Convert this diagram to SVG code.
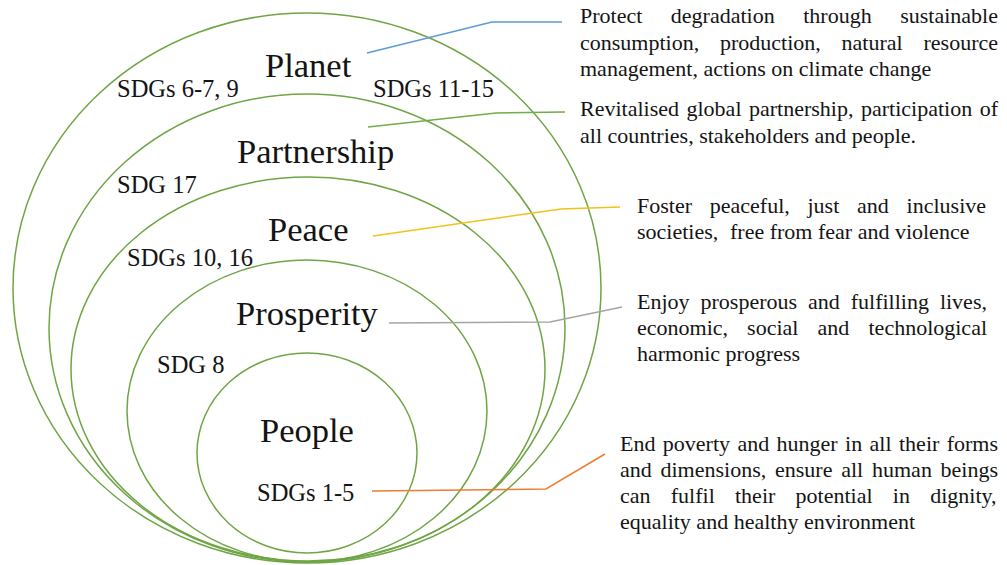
<svg xmlns="http://www.w3.org/2000/svg" width="1007" height="565" viewBox="0 0 1007 565">
<style>
.ring{fill:none;stroke:#6fa545;stroke-width:1.5}
.t{font-family:"Liberation Serif","Times New Roman",serif;fill:#141414}
.big{font-size:34.5px}
.sdg{font-size:24.5px}
.desc{font-size:22px}
.con{fill:none;stroke-width:1.5}
</style>
<rect width="1007" height="565" fill="#ffffff"/>
<g id="planet">
<ellipse class="ring" cx="307" cy="288" rx="294" ry="275"/>
<text class="t big" x="265" y="77">Planet</text>
<text class="t sdg" x="117" y="97">SDGs 6-7, 9</text>
<text class="t sdg" x="373" y="97">SDGs 11-15</text>
</g>
<g id="partnership">
<ellipse class="ring" cx="307" cy="328" rx="258" ry="234"/>
<text class="t big" x="237" y="163">Partnership</text>
<text class="t sdg" x="117" y="193">SDG 17</text>
</g>
<g id="peace">
<ellipse class="ring" cx="308" cy="369" rx="237" ry="192"/>
<text class="t big" x="268" y="241">Peace</text>
<text class="t sdg" x="127" y="266">SDGs 10, 16</text>
</g>
<g id="prosperity">
<ellipse class="ring" cx="307" cy="411" rx="180" ry="151"/>
<text class="t big" x="236" y="325">Prosperity</text>
<text class="t sdg" x="157" y="373">SDG 8</text>
</g>
<g id="people">
<ellipse class="ring" cx="307" cy="453" rx="110" ry="100"/>
<text class="t big" x="260" y="442">People</text>
<text class="t sdg" x="257" y="501">SDGs 1-5</text>
</g>
<g id="connectors">
<polyline class="con" stroke="#5b9bd5" points="367,53 492,22 562,22"/>
<polyline class="con" stroke="#70ad47" points="368,127 496,113 565,112"/>
<polyline class="con" stroke="#f2c21b" points="373,236 561,209 620,207"/>
<polyline class="con" stroke="#a5a5a5" points="389,323 550,322 622,307"/>
<polyline class="con" stroke="#ed7d31" points="372,491 546,489 605,454"/>
</g>
<g id="desc-planet" class="t desc">
<text y="23"><tspan x="580">Protect</tspan><tspan x="670.8">degradation</tspan><tspan x="803.2">through</tspan><tspan x="900.2">sustainable</tspan></text>
<text y="50"><tspan x="580">consumption,</tspan><tspan x="720">production,</tspan><tspan x="841.6">natural</tspan><tspan x="923.5">resource</tspan></text>
<text x="580" y="76">management, actions on climate change</text>
</g>
<g id="desc-partnership" class="t desc">
<text y="116"><tspan x="580">Revitalised</tspan><tspan x="686.5">global</tspan><tspan x="749">partnership,</tspan><tspan x="861">participation</tspan><tspan x="979.7">of</tspan></text>
<text x="580" y="143">all countries, stakeholders and people.</text>
</g>
<g id="desc-peace" class="t desc">
<text y="213"><tspan x="637">Foster</tspan><tspan x="709.8">peaceful,</tspan><tspan x="807.5">just</tspan><tspan x="857">and</tspan><tspan x="906.6">inclusive</tspan></text>
<text y="239"><tspan x="637">societies,</tspan><tspan x="730">free from fear and violence</tspan></text>
</g>
<g id="desc-prosperity" class="t desc">
<text y="309"><tspan x="637">Enjoy</tspan><tspan x="700.5">prosperous</tspan><tspan x="808">and</tspan><tspan x="850.7">fulfilling</tspan><tspan x="939.9">lives,</tspan></text>
<text y="335"><tspan x="637">economic,</tspan><tspan x="747.1">social</tspan><tspan x="817.5">and</tspan><tspan x="868.5">technological</tspan></text>
<text x="637" y="361">harmonic progress</text>
</g>
<g id="desc-people" class="t desc">
<text y="451"><tspan x="620">End</tspan><tspan x="662.8">poverty</tspan><tspan x="737.4">and</tspan><tspan x="776.6">hunger</tspan><tspan x="845.1">in</tspan><tspan x="869.6">all</tspan><tspan x="899">their</tspan><tspan x="946.7">forms</tspan></text>
<text y="477"><tspan x="620">and</tspan><tspan x="660.5">dimensions,</tspan><tspan x="775">ensure</tspan><tspan x="841.2">all</tspan><tspan x="872">human</tspan><tspan x="940.6">beings</tspan></text>
<text y="503"><tspan x="620">can</tspan><tspan x="670.8">fulfil</tspan><tspan x="735">their</tspan><tspan x="795.6">potential</tspan><tspan x="892.8">in</tspan><tspan x="930.2">dignity,</tspan></text>
<text x="620" y="529">equality and healthy environment</text>
</g>
</svg>
